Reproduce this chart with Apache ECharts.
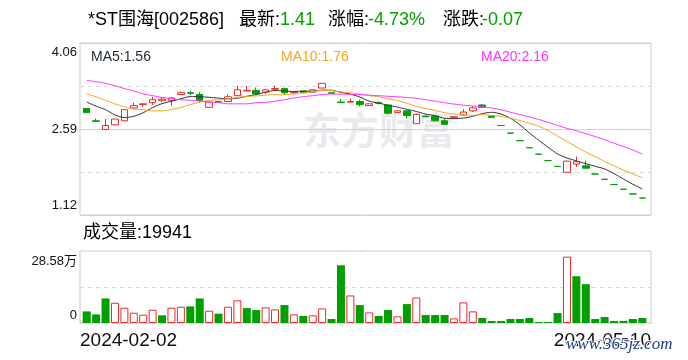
<!DOCTYPE html>
<html><head><meta charset="utf-8">
<script src="https://cdn.jsdelivr.net/npm/echarts@6/dist/echarts.min.js"></script>
<style>html,body{margin:0;padding:0;background:#fff}#c{width:688px;height:360px}</style>
</head><body><div id="c"></div>
<script>
const dates = [
 '2024-02-02','2024-02-05','2024-02-06','2024-02-07','2024-02-08','2024-02-19','2024-02-20','2024-02-21','2024-02-22','2024-02-23',
 '2024-02-26','2024-02-27','2024-02-28','2024-02-29','2024-03-01','2024-03-04','2024-03-05','2024-03-06','2024-03-07','2024-03-08',
 '2024-03-11','2024-03-12','2024-03-13','2024-03-14','2024-03-15','2024-03-18','2024-03-19','2024-03-20','2024-03-21','2024-03-22',
 '2024-03-25','2024-03-26','2024-03-27','2024-03-28','2024-03-29','2024-04-01','2024-04-02','2024-04-03','2024-04-08','2024-04-09',
 '2024-04-10','2024-04-11','2024-04-12','2024-04-15','2024-04-16','2024-04-17','2024-04-18','2024-04-19','2024-04-22','2024-04-23',
 '2024-04-24','2024-04-25','2024-04-26','2024-04-29','2024-04-30','2024-05-06','2024-05-07','2024-05-08','2024-05-09','2024-05-10'];
const opens = [2.94,2.73,2.58,2.66,2.73,2.95,3.01,3.04,3.08,3.08, 3.18,3.21,3.18,2.96,3.06,3.06,3.16,3.24,3.25,3.22,
 3.27,3.28,3.21,3.24,3.22,3.29,3.21,3.05,3.05,3.06, 2.99,3.04,3.00,2.87,2.90,2.68,2.81,2.81,2.73,2.79,
 2.83,2.90,3.00,2.81,2.65,2.52,2.39,2.27,2.16,2.05, 1.95,1.85,1.99,1.96,1.82,1.73,1.64,1.56,1.48,1.41];
const closes = [2.87,2.72,2.65,2.76,2.92,2.99,3.02,3.09,3.10,3.12, 3.21,3.20,3.08,3.05,3.05,3.14,3.26,3.25,3.19,3.26,
 3.28,3.21,3.22,3.21,3.26,3.37,3.20,3.04,3.06,3.01, 3.02,3.03,2.86,2.90,2.82,2.84,2.80,2.73,2.67,2.80,
 2.88,2.95,2.96,2.79,2.65,2.52,2.39,2.27,2.16,2.05, 1.95,2.04,2.03,1.92,1.82,1.73,1.64,1.56,1.48,1.41];
const lows = [2.87,2.72,2.58,2.65,2.72,2.94,2.97,3.00,3.05,2.99, 3.18,3.17,3.04,2.96,3.04,3.05,3.16,3.24,3.18,3.19,
 3.25,3.18,3.18,3.21,3.22,3.29,3.20,3.04,3.05,2.98, 2.99,3.01,2.84,2.87,2.77,2.68,2.80,2.72,2.67,2.79,
 2.82,2.88,2.95,2.79,2.65,2.52,2.39,2.27,2.16,2.05, 1.95,1.85,1.94,1.92,1.82,1.73,1.64,1.56,1.48,1.41];
const highs = [2.94,2.77,2.76,2.76,2.93,3.04,3.02,3.14,3.13,3.13, 3.23,3.24,3.22,3.05,3.06,3.18,3.33,3.33,3.30,3.27,
 3.33,3.30,3.22,3.24,3.27,3.37,3.21,3.10,3.11,3.09, 3.03,3.06,3.00,2.90,2.90,2.86,2.82,2.81,2.76,2.80,
 2.93,2.98,3.02,2.81,2.65,2.52,2.39,2.27,2.16,2.05, 1.95,2.05,2.12,2.05,1.82,1.73,1.64,1.56,1.48,1.41];
const volumes = [46100,34200,97500,80300,60600,40800,32900,52700,30300,60600,
 64500,65900,97500,48700,36900,64500,90000,59300,51400,61900,
 54000,71100,34200,27700,30300,57900,15800,229200,109300,71100,
 42100,27700,51400,26300,75100,101400,31600,31600,31600,18400,
 81700,46100,19800,7900,7900,15800,15800,19800,4000,4000,
 39500,263400,185700,154100,15800,23700,7900,7900,15800,19941];
const volUp = [0,0,0,1,1,1,1,1,0,1, 1,0,0,1,0,1,1,0,0,1, 1,0,1,0,1,1,0,0,1,0,
 1,0,0,1,0,1,0,0,0,1, 1,1,0,0,0,0,0,0,0,0, 0,1,0,0,0,0,0,0,0,0];
// moving-average values before a full window is available
const ma5Head = [3.05,2.98,2.92,2.83];
const ma10Head = [3.19,3.14,3.08,3.02,2.97,2.93,2.92,2.90,2.90];
const ma20Head = [3.42,3.40,3.37,3.33,3.28,3.24,3.19,3.16,3.13,3.11,3.09,3.08,3.07,3.05,3.04,3.02,3.02,3.02,3.04];
const priceMin = 1.12, priceMax = 4.06;
const priceTickLabels = ['1.12','2.59','4.06'];
const volMax = 285800;
const volTickLabels = ['0','28.58万'];
const stockName = '*ST围海[002586]';

const RED = '#ee2a2a', GREEN = '#00a000';
const FONT = '"Liberation Sans", "Noto Sans CJK SC", sans-serif';

function ma(n, head) {
  return closes.map((c, i) => {
    if (i < n - 1) return head[i];
    let s = 0; for (let k = i - n + 1; k <= i; k++) s += closes[k];
    return +(s / n).toFixed(4);
  });
}
const ma5 = ma(5, ma5Head), ma10 = ma(10, ma10Head), ma20 = ma(20, ma20Head);
const last = closes.length - 1;
const chg = closes[last] - closes[last - 1];
const pct = chg / closes[last - 1] * 100;

function txt(text, x, y, size, color, extra) {
  return Object.assign({type: 'text', z: 10, style: {text: text, x: x, y: y, font: size + 'px ' + FONT, fill: color, textVerticalAlign: 'middle'}}, extra || {});
}

const chart = echarts.init(document.getElementById('c'));
chart.setOption({
  animation: false,
  backgroundColor: '#fff',
  grid: [
    {left: 80, top: 43, width: 571, height: 172, show: true, borderColor: '#cccccc', borderWidth: 1, backgroundColor: 'transparent'},
    {left: 82, top: 43, width: 565, height: 172},
    {left: 80, top: 251, width: 571, height: 72, show: true, borderColor: '#cccccc', borderWidth: 1, backgroundColor: 'transparent'},
    {left: 82, top: 251, width: 565, height: 72}
  ],
  xAxis: [
    {gridIndex: 0, type: 'category', data: dates, boundaryGap: false, show: false},
    {gridIndex: 1, type: 'category', data: dates, show: false},
    {gridIndex: 2, type: 'category', data: dates, boundaryGap: false,
      axisLine: {show: false}, axisTick: {show: false}, splitLine: {show: false},
      axisLabel: {interval: (i) => i === 0 || i === dates.length - 1, alignMinLabel: 'left', alignMaxLabel: 'right',
        fontSize: 19, color: '#111', margin: 8, fontFamily: FONT}},
    {gridIndex: 3, type: 'category', data: dates, show: false}
  ],
  yAxis: [
    {gridIndex: 0, type: 'value', min: 0, max: 4, interval: 1,
      axisLine: {show: false}, axisTick: {show: false},
      splitLine: {show: true, lineStyle: {color: '#d9d9d9', type: [4, 4], width: 1}},
      axisLabel: {margin: 3, fontSize: 13, color: '#111', fontFamily: FONT,
        formatter: (v) => v === 4 ? '{t|' + priceTickLabels[2] + '}' : v === 2 ? '{m|' + priceTickLabels[1] + '}' : v === 0 ? '{b|' + priceTickLabels[0] + '}' : '',
        rich: {t: {padding: [19, 0, 0, 0], fontSize: 13, color: '#111', fontFamily: FONT},
               m: {fontSize: 13, color: '#111', fontFamily: FONT},
               b: {padding: [0, 0, 20, 0], fontSize: 13, color: '#111', fontFamily: FONT}}}},
    {gridIndex: 0, type: 'value', min: 0, max: 2, interval: 1, position: 'left',
      axisLine: {show: false}, axisTick: {show: false}, axisLabel: {show: false},
      splitLine: {show: true, lineStyle: {color: '#d2d2d2', type: 'solid', width: 1}}},
    {gridIndex: 1, type: 'value', min: priceMin, max: priceMax, show: false},
    {gridIndex: 2, type: 'value', min: 0, max: 2, interval: 1,
      axisLine: {show: false}, axisTick: {show: false},
      splitLine: {show: true, lineStyle: {color: '#d9d9d9', type: [4, 4], width: 1}},
      axisLabel: {margin: 3, fontSize: 13, color: '#111', fontFamily: FONT,
        formatter: (v) => v === 2 ? '{t|' + volTickLabels[1] + '}' : v === 0 ? '{b|' + volTickLabels[0] + '}' : '',
        rich: {t: {padding: [20, 0, 0, 0], fontSize: 13, color: '#111', fontFamily: FONT},
               b: {padding: [0, 0, 16, 0], fontSize: 13, color: '#111', fontFamily: FONT}}}},
    {gridIndex: 3, type: 'value', min: 0, max: volMax, show: false}
  ],
  graphic: [
    {type: 'text', z: 0, style: {text: '东方财富', x: 303, y: 130, font: 'bold 38px "Noto Sans CJK SC"', fill: '#e9e9ee', textVerticalAlign: 'middle'}},
    txt(stockName, 88, 20, 18, '#000'),
    txt('最新:', 239, 20, 18, '#000'),
    txt(closes[last].toFixed(2), 280, 20, 18, GREEN),
    txt('涨幅:', 328, 20, 18, '#000'),
    txt(pct.toFixed(2) + '%', 368, 20, 18, GREEN),
    txt('涨跌:', 443, 20, 18, '#000'),
    txt(chg.toFixed(2), 482, 20, 18, GREEN),
    txt('MA5:' + ma5[last].toFixed(2), 91, 57, 14, '#1e2a38'),
    txt('MA10:' + ma10[last].toFixed(2), 281, 57, 14, '#f5a623'),
    txt('MA20:' + ma20[last].toFixed(2), 481, 57, 14, '#ff33ff'),
    txt('成交量:' + volumes[last], 83, 233, 18, '#000'),
    {type: 'text', z: 20, style: {text: 'www.365jz.com', x: 566, y: 345, font: 'italic 17px "Liberation Serif"', fill: '#1c3c86', stroke: '#fff', lineWidth: 2, textVerticalAlign: 'middle'}}
  ],
  series: [
    {type: 'candlestick', xAxisIndex: 1, yAxisIndex: 2, barWidth: 7,
      data: opens.map((o, i) => [o, closes[i], lows[i], highs[i]]),
      itemStyle: {color: '#fff', color0: GREEN, borderColor: RED, borderColor0: GREEN, borderWidth: 1}},
    {type: 'line', name: 'MA5', xAxisIndex: 1, yAxisIndex: 2, data: ma5, symbol: 'none', smooth: 0.25, lineStyle: {color: '#333', width: 1}},
    {type: 'line', name: 'MA10', xAxisIndex: 1, yAxisIndex: 2, data: ma10, symbol: 'none', smooth: 0.25, lineStyle: {color: '#f5a623', width: 1}},
    {type: 'line', name: 'MA20', xAxisIndex: 1, yAxisIndex: 2, data: ma20, symbol: 'none', smooth: 0.25, lineStyle: {color: '#ff33ff', width: 1}},
    {type: 'bar', xAxisIndex: 3, yAxisIndex: 4, barWidth: 8,
      data: volumes.map((v, i) => ({value: v, itemStyle: volUp[i] ? {color: '#fff', borderColor: RED, borderWidth: 1} : {color: GREEN}}))}
  ]
});
</script></body></html>
